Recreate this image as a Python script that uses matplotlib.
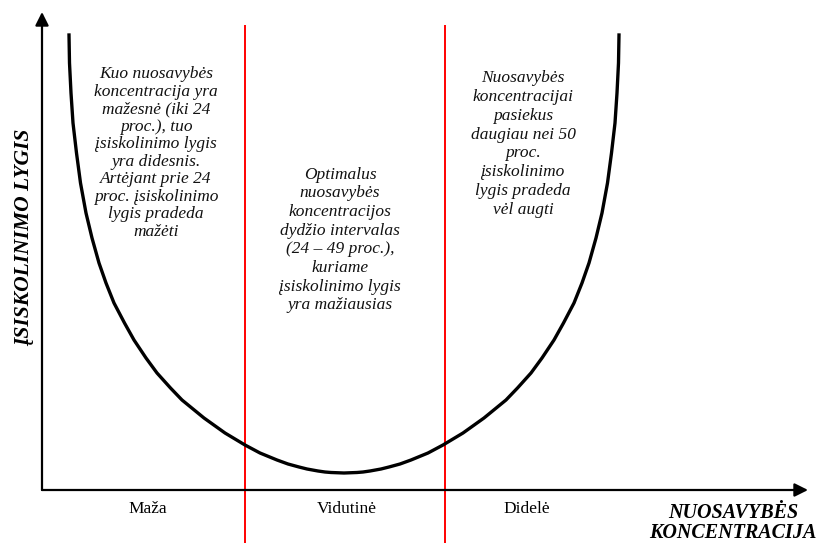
import matplotlib.pyplot as plt

plt.rcParams['font.family'] = ['Liberation Serif', 'DejaVu Serif']

# U-shaped curve (x: concentration, y: debt level, arbitrary units)
curve_x = [27, 27.5, 29, 31, 34.5, 38.5, 44, 50, 57, 64, 72, 82.5, 92, 104, 115, 128.5,
           140, 162, 183, 203, 218, 235, 246, 257, 265, 276, 283, 289, 302,
           315, 321, 328, 339, 347, 358, 369, 386, 401, 421, 442, 464, 475.5,
           489, 500, 512, 521.5, 532, 540, 547, 554, 560, 565.5, 569.5, 573, 575, 576.5, 577]
curve_y = [455, 427, 397, 367, 337, 307, 277, 252, 227, 207, 187, 167, 150, 132, 117, 102,
           90, 72, 57, 45, 37, 30, 26, 23, 21, 19, 18, 17.5, 17,
           17.5, 18, 19, 21, 23, 26, 30, 37, 45, 57, 72, 90, 102,
           117, 132, 150, 167, 187, 207, 227, 252, 277, 307, 337, 367, 397, 427, 455]

# zone boundaries (24 % and 49 %)
boundaries = [203, 403]

categories = ['Maža', 'Vidutinė', 'Didelė']
category_x = [106, 305, 485]

notes = [
    'Kuo nuosavybės\nkoncentracija yra\nmažesnė (iki 24\nproc.), tuo\nįsiskolinimo lygis\n'
    'yra didesnis.\nArtėjant prie 24\nproc. įsiskolinimo\nlygis pradeda\nmažėti',
    'Optimalus\nnuosavybės\nkoncentracijos\ndydžio intervalas\n(24 – 49 proc.),\n'
    'kuriame\nįsiskolinimo lygis\nyra mažiausias',
    'Nuosavybės\nkoncentracijai\npasiekus\ndaugiau nei 50\nproc.\nįsiskolinimo\n'
    'lygis pradeda\nvėl augti',
]
note_x = [114, 298, 481]
note_y = [337, 250, 346]
note_spacing = [1.13, 1.22, 1.23]

fig = plt.figure(figsize=(8.22, 5.43), dpi=100)
ax = fig.add_axes([0, 0, 1, 1])
ax.set_xlim(-42, 780)
ax.set_ylim(-53, 490)
ax.axis('off')

# axes with arrows
arrow = dict(arrowstyle='-|>', lw=1.6, color='black', mutation_scale=20, shrinkA=0, shrinkB=0)
ax.annotate('', xy=(0, 478), xytext=(0, 0), arrowprops=arrow)
ax.annotate('', xy=(766, 0), xytext=(0, 0), arrowprops=arrow)

ax.vlines(boundaries, -53, 465, colors='#ff0000', lw=1.4)
ax.plot(curve_x, curve_y, color='black', lw=2.4, solid_joinstyle='round')

for txt, x, y, ls in zip(notes, note_x, note_y, note_spacing):
    ax.text(x, y, txt, ha='center', va='center', fontsize=12.5, style='italic',
            linespacing=ls, color='#111111')

for lab, x in zip(categories, category_x):
    ax.text(x, -19, lab, ha='center', va='center', fontsize=12.5)

ax.text(691, -33, 'NUOSAVYBĖS\nKONCENTRACIJA', ha='center', va='center', fontsize=14.5,
        style='italic', weight='bold', linespacing=1.05)
ax.text(-18, 253, 'ĮSISKOLINIMO LYGIS', ha='center', va='center', fontsize=15.5,
        style='italic', weight='bold', rotation=90)

fig.savefig('out.png', dpi=100)
